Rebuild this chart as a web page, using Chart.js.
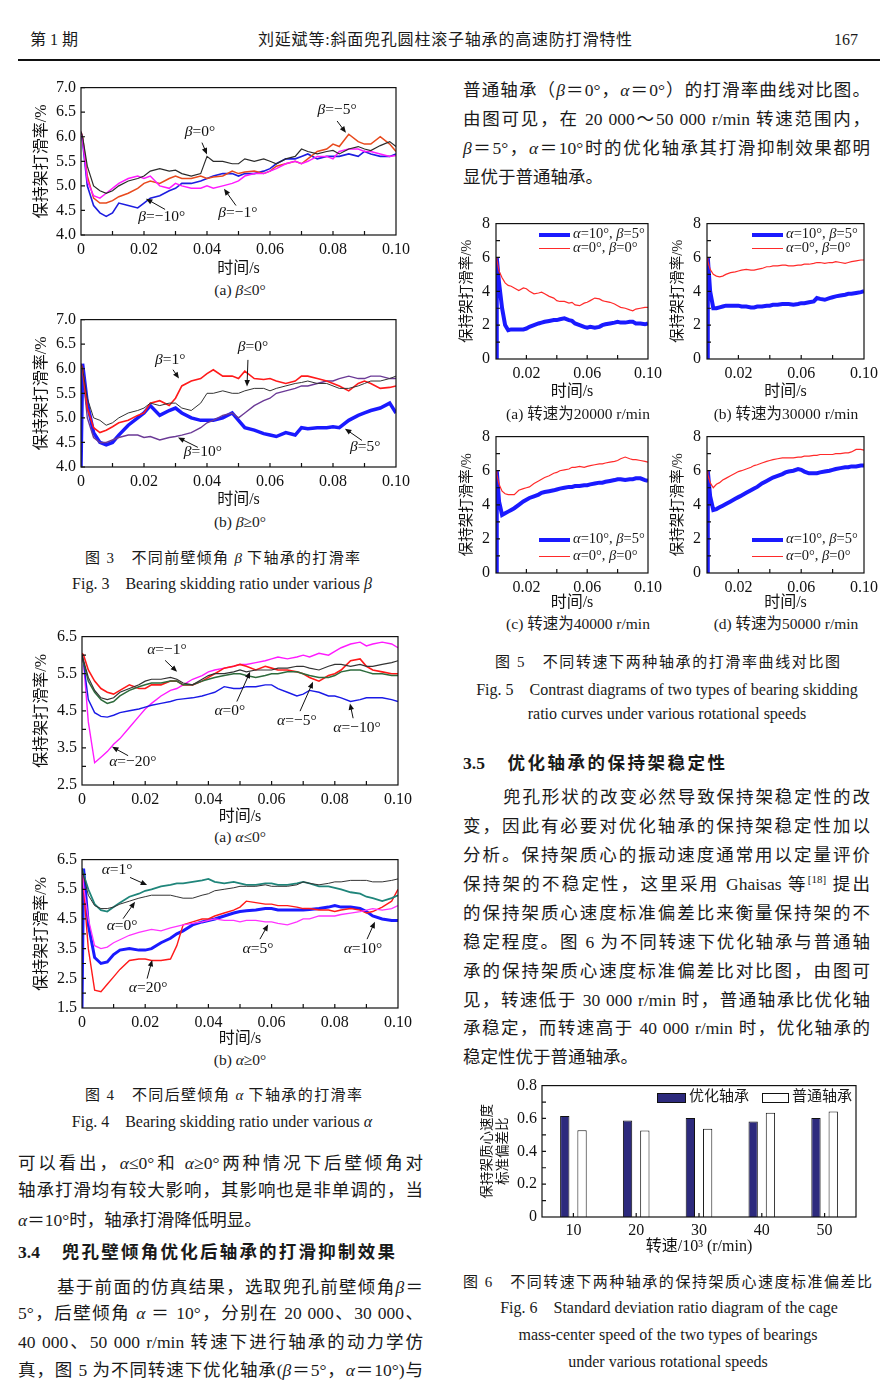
<!DOCTYPE html>
<html lang="zh-CN">
<head>
<meta charset="utf-8">
<title>斜面兜孔圆柱滚子轴承的高速防打滑特性</title>
<script src="https://cdn.jsdelivr.net/npm/chart.js@4.4.1/dist/chart.umd.min.js"></script>
<style>
  body { margin: 0; background: #fff; }
  #page { position: relative; width: 890px; height: 1398px; overflow: hidden; background: #fff; color: #1a1a1a;
          font-family: 'Liberation Serif', 'Noto Sans CJK SC', serif; }
  .ln { position: absolute; height: 30px; line-height: 30px; font-size: 17.5px; white-space: nowrap; }
  .jf { white-space: normal; text-align: justify; text-align-last: justify; }
  .hd { font-weight: bold; }
  .cp { position: absolute; height: 20px; line-height: 20px; font-size: 15px; text-align: justify; text-align-last: justify; }
  .ce { position: absolute; height: 20px; line-height: 20px; font-size: 16px; white-space: nowrap; transform: translateX(-50%); }
  .sub { position: absolute; font-size: 15.5px; line-height: 20px; white-space: nowrap; transform: translateX(-50%); }
  .box { position: absolute; }
  .box canvas { display: block; }
  .lg { position: absolute; font-size: 14.5px; line-height: 16px; white-space: nowrap; }
  .lg span { display: inline-block; vertical-align: middle; margin-right: 3px; }
  .rule { position: absolute; left: 18px; top: 59px; width: 862px; height: 2px; background: #111; }
  sup { font-size: 11px; line-height: 0; }
</style>
</head>
<body>
<div id="page">
  <!-- 页眉 -->
  <div class="ln" style="left:30px;top:25px;font-size:16px">第 1 期</div>
  <div class="ln jf" style="left:258px;top:25px;width:374px;font-size:16px">刘延斌等:斜面兜孔圆柱滚子轴承的高速防打滑特性</div>
  <div class="ln" style="left:834px;top:25px;font-size:16px">167</div>
  <div class="rule"></div>

  <!-- 图 3 -->
  <div class="box" id="box-f3a"><canvas id="f3a"></canvas></div>
  <div class="sub" style="left:240px;top:280px">(a) <i>β</i>≤0°</div>
  <div class="box" id="box-f3b"><canvas id="f3b"></canvas></div>
  <div class="sub" style="left:240px;top:512px">(b) <i>β</i>≥0°</div>
  <div class="cp" style="left:85px;top:548px;width:275px">图 3　不同前壁倾角 <i>β</i> 下轴承的打滑率</div>
  <div class="ce" style="left:222px;top:574px">Fig. 3&emsp;Bearing skidding ratio under various <i>β</i></div>

  <!-- 图 4 -->
  <div class="box" id="box-f4a"><canvas id="f4a"></canvas></div>
  <div class="sub" style="left:240px;top:827px">(a) <i>α</i>≤0°</div>
  <div class="box" id="box-f4b"><canvas id="f4b"></canvas></div>
  <div class="sub" style="left:240px;top:1050px">(b) <i>α</i>≥0°</div>
  <div class="cp" style="left:85px;top:1085px;width:277px">图 4　不同后壁倾角 <i>α</i> 下轴承的打滑率</div>
  <div class="ce" style="left:222px;top:1112px">Fig. 4&emsp;Bearing skidding ratio under various <i>α</i></div>

  <!-- 左栏正文 -->
  <div class="ln jf" style="left:18px;top:1148px;width:405px">可以看出，<i>α</i>≤0°和 <i>α</i>≥0°两种情况下后壁倾角对</div>
  <div class="ln jf" style="left:18px;top:1175px;width:405px">轴承打滑均有较大影响，其影响也是非单调的，当</div>
  <div class="ln" style="left:18px;top:1205px"><i>α</i>＝10°时，轴承打滑降低明显。</div>
  <div class="ln jf hd" style="left:18px;top:1237px;width:377px">3.4　兜孔壁倾角优化后轴承的打滑抑制效果</div>
  <div class="ln jf" style="left:57px;top:1272px;width:366px">基于前面的仿真结果，选取兜孔前壁倾角<i>β</i>＝</div>
  <div class="ln jf" style="left:18px;top:1298px;width:405px">5°，后壁倾角 <i>α</i> ＝ 10°，分别在 20 000、30 000、</div>
  <div class="ln jf" style="left:18px;top:1327px;width:405px">40 000、50 000 r/min 转速下进行轴承的动力学仿</div>
  <div class="ln jf" style="left:18px;top:1355px;width:405px">真，图 5 为不同转速下优化轴承(<i>β</i>＝5°，<i>α</i>＝10°)与</div>

  <!-- 右栏正文 -->
  <div class="ln jf" style="left:463px;top:75px;width:407px">普通轴承（<i>β</i>＝0°，<i>α</i>＝0°）的打滑率曲线对比图。</div>
  <div class="ln jf" style="left:463px;top:104px;width:407px">由图可见，在 20 000～50 000 r/min 转速范围内，</div>
  <div class="ln jf" style="left:463px;top:133px;width:407px"><i>β</i>＝5°，<i>α</i>＝10°时的优化轴承其打滑抑制效果都明</div>
  <div class="ln" style="left:463px;top:162px">显优于普通轴承。</div>

  <!-- 图 5 -->
  <div class="box" id="box-f5a"><canvas id="f5a"></canvas></div>
  <div class="box" id="box-f5b"><canvas id="f5b"></canvas></div>
  <div class="box" id="box-f5c"><canvas id="f5c"></canvas></div>
  <div class="box" id="box-f5d"><canvas id="f5d"></canvas></div>
  <div class="lg" style="left:539px;top:225px"><span style="width:31px;height:4px;background:#1a1aff"></span><i>α</i>=10°, <i>β</i>=5°</div>
  <div class="lg" style="left:539px;top:239px"><span style="width:31px;height:1.5px;background:#ff2a2a"></span><i>α</i>=0°, <i>β</i>=0°</div>
  <div class="lg" style="left:752px;top:225px"><span style="width:31px;height:4px;background:#1a1aff"></span><i>α</i>=10°, <i>β</i>=5°</div>
  <div class="lg" style="left:752px;top:239px"><span style="width:31px;height:1.5px;background:#ff2a2a"></span><i>α</i>=0°, <i>β</i>=0°</div>
  <div class="lg" style="left:539px;top:530px"><span style="width:31px;height:4px;background:#1a1aff"></span><i>α</i>=10°, <i>β</i>=5°</div>
  <div class="lg" style="left:539px;top:547px"><span style="width:31px;height:1.5px;background:#ff2a2a"></span><i>α</i>=0°, <i>β</i>=0°</div>
  <div class="lg" style="left:752px;top:530px"><span style="width:31px;height:4px;background:#1a1aff"></span><i>α</i>=10°, <i>β</i>=5°</div>
  <div class="lg" style="left:752px;top:547px"><span style="width:31px;height:1.5px;background:#ff2a2a"></span><i>α</i>=0°, <i>β</i>=0°</div>
  <div class="sub" style="left:578px;top:404px">(a) 转速为20000 r/min</div>
  <div class="sub" style="left:786px;top:404px">(b) 转速为30000 r/min</div>
  <div class="sub" style="left:578px;top:614px">(c) 转速为40000 r/min</div>
  <div class="sub" style="left:786px;top:614px">(d) 转速为50000 r/min</div>
  <div class="cp" style="left:495px;top:652px;width:345px">图 5　不同转速下两种轴承的打滑率曲线对比图</div>
  <div class="ce" style="left:667px;top:680px">Fig. 5&emsp;Contrast diagrams of two types of bearing skidding</div>
  <div class="ce" style="left:667px;top:704px">ratio curves under various rotational speeds</div>

  <div class="ln jf hd" style="left:463px;top:748px;width:262px">3.5　优化轴承的保持架稳定性</div>
  <div class="ln jf" style="left:503px;top:782px;width:367px">兜孔形状的改变必然导致保持架稳定性的改</div>
  <div class="ln jf" style="left:463px;top:811px;width:407px">变，因此有必要对优化轴承的保持架稳定性加以</div>
  <div class="ln jf" style="left:463px;top:840px;width:407px">分析。保持架质心的振动速度通常用以定量评价</div>
  <div class="ln jf" style="left:463px;top:869px;width:407px">保持架的不稳定性，这里采用 Ghaisas 等<sup>[18]</sup> 提出</div>
  <div class="ln jf" style="left:463px;top:898px;width:407px">的保持架质心速度标准偏差比来衡量保持架的不</div>
  <div class="ln jf" style="left:463px;top:927px;width:407px">稳定程度。图 6 为不同转速下优化轴承与普通轴</div>
  <div class="ln jf" style="left:463px;top:956px;width:407px">承的保持架质心速度标准偏差比对比图，由图可</div>
  <div class="ln jf" style="left:463px;top:985px;width:407px">见，转速低于 30 000 r/min 时，普通轴承比优化轴</div>
  <div class="ln jf" style="left:463px;top:1013px;width:407px">承稳定，而转速高于 40 000 r/min 时，优化轴承的</div>
  <div class="ln" style="left:463px;top:1042px">稳定性优于普通轴承。</div>

  <!-- 图 6 -->
  <div class="box" id="box-f6"><canvas id="f6"></canvas></div>
  <div class="lg" style="left:657px;top:1088px;font-size:15px"><span style="width:27px;height:8px;background:#2d2a7d;border:1px solid #111"></span>优化轴承</div>
  <div class="lg" style="left:762px;top:1088px;font-size:15px"><span style="width:25px;height:8px;background:#fff;border:1px solid #111"></span>普通轴承</div>
  <div class="cp" style="left:463px;top:1272px;width:409px">图 6　不同转速下两种轴承的保持架质心速度标准偏差比</div>
  <div class="ce" style="left:669px;top:1298px">Fig. 6&emsp;Standard deviation ratio diagram of the cage</div>
  <div class="ce" style="left:668px;top:1325px">mass-center speed of the two types of bearings</div>
  <div class="ce" style="left:668px;top:1352px">under various rotational speeds</div>
</div>

<script>
// ---------------- 数据 ----------------
const TIME_S = [0, 0.0005, 0.002, 0.004, 0.006, 0.008, 0.010, 0.012, 0.015, 0.018,
    0.020, 0.022, 0.025, 0.028, 0.030, 0.032, 0.035, 0.038, 0.040, 0.042,
    0.045, 0.048, 0.050, 0.052, 0.055, 0.058, 0.060, 0.062, 0.065, 0.068,
    0.070, 0.072, 0.075, 0.078, 0.080, 0.082, 0.085, 0.088, 0.090, 0.092,
    0.095, 0.098, 0.100];

// 图3(a) β≤0°
const BETA_0_A = [6.1, 6.0, 5.4, 5.0, 4.9, 4.85, 4.9, 5.0, 5.1, 5.15,
    5.2, 5.3, 5.35, 5.3, 5.32, 5.25, 5.2, 5.25, 5.6, 5.5,
    5.5, 5.45, 5.45, 5.55, 5.5, 5.55, 5.5, 5.45, 5.55, 5.6,
    5.75, 5.7, 5.65, 5.7, 5.72, 5.65, 5.75, 5.8, 5.75, 5.72,
    5.82, 5.9, 5.8];
const BETA_M5 = [6.1, 6.0, 5.2, 4.75, 4.65, 4.65, 4.7, 4.78, 4.85, 4.95,
    5.05, 5.1, 5.05, 5.15, 5.2, 5.15, 5.15, 5.2, 5.15, 5.18,
    5.2, 5.3, 5.25, 5.28, 5.3, 5.25, 5.3, 5.4, 5.45, 5.5,
    5.45, 5.55, 5.7, 5.75, 5.85, 5.8, 6.05, 5.9, 5.85, 5.85,
    6.0, 5.85, 5.7];
const BETA_M10 = [6.1, 5.9, 5.0, 4.6, 4.45, 4.38, 4.45, 4.65, 4.6, 4.55,
    4.65, 4.75, 4.8, 4.9, 4.95, 5.05, 5.05, 5.1, 5.15, 5.2,
    5.25, 5.25, 5.2, 5.25, 5.25, 5.3, 5.35, 5.45, 5.55, 5.55,
    5.6, 5.65, 5.55, 5.6, 5.6, 5.6, 5.65, 5.6, 5.7, 5.65,
    5.6, 5.6, 5.65];
const BETA_M1 = [6.1, 5.95, 5.1, 4.8, 4.75, 4.85, 4.95, 5.05, 5.15, 5.2,
    5.15, 5.2, 5.0, 4.95, 5.05, 5.0, 4.95, 4.95, 5.0, 4.95,
    5.0, 5.05, 5.1, 5.2, 5.25, 5.25, 5.3, 5.35, 5.45, 5.5,
    5.45, 5.5, 5.6, 5.6, 5.55, 5.7, 5.75, 5.75, 5.7, 5.7,
    5.65, 5.6, 5.62];

// 图3(b) β≥0°
const BETA_P1 = [6.1, 6.0, 5.2, 4.8, 4.7, 4.75, 4.82, 4.9, 4.95, 5.05,
    5.1, 5.3, 5.35, 5.25, 5.4, 5.65, 5.75, 5.8, 5.9, 5.98,
    5.85, 5.85, 5.8, 5.95, 5.8, 5.78, 5.8, 5.75, 5.7, 5.75,
    5.85, 5.85, 5.8, 5.75, 5.7, 5.65, 5.55, 5.7, 5.75, 5.7,
    5.6, 5.62, 5.65];
const BETA_0_B = [6.1, 6.0, 5.4, 5.0, 4.95, 4.85, 4.9, 5.0, 5.1, 5.15,
    5.2, 5.3, 5.25, 5.3, 5.3, 5.2, 5.15, 5.3, 5.5, 5.5,
    5.55, 5.5, 5.5, 5.55, 5.6, 5.6, 5.55, 5.6, 5.65, 5.7,
    5.72, 5.75, 5.7, 5.7, 5.65, 5.6, 5.6, 5.65, 5.7, 5.75,
    5.75, 5.8, 5.85];
const BETA_P5 = [4.0, 6.1, 5.3, 4.7, 4.5, 4.45, 4.5, 4.65, 4.85, 5.0,
    5.1, 5.25, 5.05, 5.15, 5.2, 5.1, 5.0, 4.95, 4.95, 4.95,
    5.0, 5.1, 4.95, 4.8, 4.75, 4.68, 4.65, 4.62, 4.7, 4.65,
    4.8, 4.78, 4.8, 4.8, 4.82, 4.8, 4.95, 5.05, 5.1, 5.15,
    5.2, 5.3, 5.1];
const BETA_P10 = [6.1, 5.95, 5.0, 4.6, 4.5, 4.5, 4.55, 4.6, 4.65, 4.65,
    4.6, 4.62, 4.55, 4.6, 4.62, 4.65, 4.7, 4.8, 4.9, 4.95,
    5.05, 5.1, 5.0, 5.1, 5.25, 5.35, 5.4, 5.5, 5.55, 5.6,
    5.65, 5.65, 5.7, 5.75, 5.75, 5.8, 5.85, 5.8, 5.8, 5.85,
    5.85, 5.8, 5.8];

// 图4(a) α≤0°
const ALPHA_0_A = [6.05, 6.0, 5.6, 5.3, 5.1, 5.0, 4.95, 5.05, 5.2, 5.1,
    5.1, 5.2, 5.2, 5.3, 5.3, 5.2, 5.2, 5.3, 5.4, 5.5,
    5.65, 5.7, 5.75, 5.7, 5.6, 5.7, 5.65, 5.6, 5.6, 5.55,
    5.5, 5.4, 5.3, 5.45, 5.5, 5.6, 5.85, 5.9, 5.7, 5.6,
    5.55, 5.5, 5.5];
const ALPHA_M20 = [6.0, 5.8, 4.2, 3.1, 3.25, 3.4, 3.6, 3.75, 4.05, 4.35,
    4.55, 4.7, 4.9, 5.05, 5.1, 5.2, 5.35, 5.45, 5.55, 5.6,
    5.65, 5.7, 5.75, 5.75, 5.8, 5.85, 5.9, 5.95, 5.9, 5.95,
    6.0, 5.95, 6.05, 6.0, 6.1, 6.2, 6.3, 6.35, 6.25, 6.3,
    6.35, 6.3, 6.2];
const ALPHA_M10 = [6.0, 5.8, 4.8, 4.45, 4.35, 4.33, 4.38, 4.45, 4.5, 4.55,
    4.6, 4.65, 4.7, 4.75, 4.8, 4.82, 4.85, 4.9, 4.95, 5.0,
    5.15, 5.1, 5.1, 5.15, 5.15, 5.2, 5.2, 5.1, 5.0, 4.9,
    4.95, 5.05, 5.0, 4.9, 4.9, 4.85, 4.75, 4.8, 4.85, 4.85,
    4.85, 4.8, 4.75];
const ALPHA_M5 = [6.0, 5.8, 5.3, 5.0, 4.8, 4.7, 4.75, 4.9, 5.05, 5.15,
    5.2, 5.25, 5.25, 5.3, 5.3, 5.2, 5.2, 5.3, 5.35, 5.4,
    5.45, 5.5, 5.5, 5.45, 5.4, 5.45, 5.5, 5.5, 5.55, 5.55,
    5.5, 5.45, 5.4, 5.4, 5.45, 5.55, 5.6, 5.6, 5.55, 5.5,
    5.5, 5.45, 5.45];
const ALPHA_M1 = [6.0, 5.85, 5.4, 5.05, 4.85, 4.8, 4.85, 5.0, 5.1, 5.2,
    5.3, 5.35, 5.35, 5.4, 5.35, 5.25, 5.2, 5.35, 5.45, 5.5,
    5.5, 5.55, 5.6, 5.55, 5.6, 5.6, 5.6, 5.65, 5.65, 5.7,
    5.7, 5.65, 5.6, 5.7, 5.75, 5.75, 5.7, 5.75, 5.7, 5.7,
    5.75, 5.8, 5.85];

// 图4(b) α≥0°
const ALPHA_P1 = [6.2, 6.0, 5.5, 5.0, 4.8, 4.75, 4.9, 5.05, 5.25, 5.35,
    5.45, 5.5, 5.6, 5.65, 5.7, 5.7, 5.75, 5.8, 5.85, 5.75,
    5.7, 5.75, 5.7, 5.65, 5.65, 5.7, 5.7, 5.65, 5.65, 5.7,
    5.75, 5.7, 5.6, 5.6, 5.55, 5.5, 5.4, 5.35, 5.25, 5.2,
    5.1, 5.2, 5.3];
const ALPHA_0_B = [6.2, 5.95, 5.3, 4.95, 4.85, 4.85, 4.9, 5.0, 5.1, 5.2,
    5.25, 5.3, 5.3, 5.3, 5.25, 5.2, 5.2, 5.3, 5.35, 5.45,
    5.5, 5.55, 5.6, 5.6, 5.6, 5.65, 5.6, 5.6, 5.6, 5.65,
    5.75, 5.7, 5.65, 5.7, 5.75, 5.75, 5.8, 5.8, 5.8, 5.75,
    5.75, 5.8, 5.85];
const ALPHA_P5 = [6.2, 5.6, 4.5, 3.6, 3.5, 3.55, 3.7, 3.8, 3.95, 4.05,
    4.1, 4.15, 4.1, 4.2, 4.25, 4.3, 4.35, 4.4, 4.45, 4.5,
    4.45, 4.45, 4.4, 4.45, 4.45, 4.4, 4.4, 4.35, 4.3, 4.4,
    4.5, 4.5, 4.6, 4.6, 4.6, 4.65, 4.7, 4.75, 4.8, 4.85,
    4.8, 4.85, 4.95];
const ALPHA_P10 = [1.5, 6.2, 4.3, 3.2, 3.0, 3.05, 3.3, 3.45, 3.5, 3.45,
    3.45, 3.5, 3.7, 3.85, 4.0, 4.1, 4.3, 4.4, 4.45, 4.5,
    4.6, 4.7, 4.75, 4.78, 4.8, 4.85, 4.85, 4.8, 4.8, 4.8,
    4.8, 4.82, 4.85, 4.9, 4.95, 4.9, 4.9, 4.85, 4.75, 4.6,
    4.5, 4.45, 4.45];
const ALPHA_P20 = [6.2, 5.5, 3.5, 2.1, 2.05, 2.3, 2.55, 2.8, 3.1, 3.15,
    3.15, 3.1, 3.1, 3.15, 3.6, 4.3, 4.4, 4.5, 4.5, 4.6,
    4.7, 4.8, 4.9, 5.1, 5.05, 5.0, 5.0, 4.95, 4.95, 4.9,
    4.85, 4.85, 4.8, 4.8, 4.75, 4.8, 4.85, 4.8, 4.7, 4.75,
    4.9, 5.1, 5.5];

// 图5 优化轴承(α=10°, β=5°) 与 普通轴承(α=0°, β=0°)
const OPT_20K = [0, 6.0, 4.5, 3.0, 2.0, 1.7, 1.75, 1.75, 1.75, 1.75,
    1.8, 1.9, 2.0, 2.1, 2.15, 2.2, 2.25, 2.3, 2.3, 2.35,
    2.4, 2.3, 2.25, 2.1, 2.0, 1.9, 1.85, 1.9, 1.85, 1.9,
    2.0, 2.05, 2.1, 2.15, 2.2, 2.15, 2.15, 2.2, 2.2, 2.1,
    2.1, 2.05, 2.1];
const STD_20K = [6.0, 5.9, 5.2, 4.8, 4.5, 4.35, 4.3, 4.2, 4.05, 4.2,
    4.15, 4.0, 3.85, 3.9, 3.95, 3.85, 3.7, 3.6, 3.45, 3.4,
    3.4, 3.3, 3.35, 3.2, 3.15, 3.3, 3.35, 3.45, 3.6, 3.55,
    3.45, 3.4, 3.35, 3.25, 3.15, 3.05, 3.0, 2.9, 2.85, 2.95,
    3.0, 3.05, 3.05];
const OPT_30K = [0, 6.0, 4.0, 3.0, 3.0, 3.05, 3.1, 3.15, 3.15, 3.15,
    3.15, 3.1, 3.1, 3.05, 3.05, 3.1, 3.1, 3.15, 3.15, 3.2,
    3.2, 3.25, 3.25, 3.25, 3.2, 3.25, 3.3, 3.3, 3.35, 3.4,
    3.6, 3.55, 3.5, 3.6, 3.65, 3.7, 3.75, 3.8, 3.85, 3.85,
    3.9, 3.95, 4.0];
const STD_30K = [6.0, 5.8, 5.3, 5.0, 4.9, 4.85, 4.9, 5.0, 5.1, 5.15,
    5.2, 5.25, 5.3, 5.25, 5.25, 5.3, 5.35, 5.45, 5.45, 5.5,
    5.5, 5.55, 5.55, 5.5, 5.5, 5.55, 5.55, 5.6, 5.6, 5.65,
    5.7, 5.7, 5.65, 5.7, 5.7, 5.75, 5.7, 5.65, 5.7, 5.75,
    5.8, 5.85, 5.85];
const OPT_40K = [0, 6.0, 4.2, 3.4, 3.5, 3.6, 3.7, 3.8, 4.0, 4.2,
    4.3, 4.4, 4.5, 4.6, 4.7, 4.75, 4.8, 4.85, 4.9, 4.95,
    5.0, 5.05, 5.05, 5.1, 5.1, 5.15, 5.15, 5.2, 5.25, 5.3,
    5.3, 5.35, 5.4, 5.45, 5.5, 5.5, 5.45, 5.5, 5.5, 5.55,
    5.55, 5.45, 5.4];
const STD_40K = [6.0, 5.8, 5.2, 4.8, 4.65, 4.6, 4.6, 4.6, 4.85, 4.95,
    5.0, 5.05, 5.25, 5.4, 5.5, 5.6, 5.7, 5.85, 5.9, 6.0,
    6.05, 6.1, 6.2, 6.2, 6.25, 6.2, 6.25, 6.3, 6.35, 6.4,
    6.4, 6.45, 6.5, 6.55, 6.6, 6.7, 6.8, 6.7, 6.65, 6.65,
    6.6, 6.55, 6.5];
const OPT_50K = [0, 6.0, 4.5, 3.7, 3.75, 3.85, 3.95, 4.05, 4.2, 4.35,
    4.45, 4.55, 4.7, 4.85, 4.95, 5.05, 5.25, 5.4, 5.5, 5.6,
    5.7, 5.8, 5.9, 5.95, 6.0, 6.1, 6.05, 5.95, 5.85, 5.85,
    5.85, 5.9, 5.95, 6.0, 6.05, 6.1, 6.15, 6.2, 6.2, 6.25,
    6.25, 6.3, 6.3];
const STD_50K = [6.0, 5.8, 5.3, 5.0, 5.2, 5.3, 5.45, 5.55, 5.7, 5.85,
    5.95, 6.0, 6.1, 6.2, 6.3, 6.35, 6.45, 6.55, 6.6, 6.65,
    6.7, 6.75, 6.75, 6.75, 6.75, 6.8, 6.8, 6.85, 6.85, 6.9,
    6.9, 6.95, 6.95, 6.95, 6.95, 7.0, 7.0, 7.05, 7.05, 7.1,
    7.25, 7.25, 7.2];

// 图6 保持架质心速度标准偏差比
const SPEED_K = ['10', '20', '30', '40', '50'];
const OPT_STD = [0.615, 0.588, 0.602, 0.582, 0.602];
const NORM_STD = [0.528, 0.527, 0.537, 0.635, 0.642];

// 刻度
const T_LABELS = [0, 0.02, 0.04, 0.06, 0.08, 0.10];
const T_MARKS = [0.01, 0.02, 0.03, 0.04, 0.05, 0.06, 0.07, 0.08, 0.09];
const T_LABELS_5 = [0.02, 0.06, 0.10];
const T_MARKS_5 = [0.02, 0.04, 0.06, 0.08];
const Y_LABELS_3 = [4.0, 4.5, 5.0, 5.5, 6.0, 6.5, 7.0];
const Y_LABELS_4A = [2.5, 3.5, 4.5, 5.5, 6.5];
const Y_MARKS_4A = [3.0, 3.5, 4.0, 4.5, 5.0, 5.5, 6.0];
const Y_LABELS_4B = [1.5, 2.5, 3.5, 4.5, 5.5, 6.5];
const Y_MARKS_4B = [2.0, 2.5, 3.0, 3.5, 4.0, 4.5, 5.0, 5.5, 6.0];
const Y_LABELS_5 = [0, 2, 4, 6, 8];
const Y_MARKS_5 = [1, 2, 3, 4, 5, 6, 7];
const Y_LABELS_6 = [0, 0.2, 0.4, 0.6, 0.8];
const Y_MARKS_6 = [0.1, 0.2, 0.3, 0.4, 0.5, 0.6, 0.7];

// ---------------- 绘图 ----------------
const SERIF = "'Liberation Serif', 'Noto Sans CJK SC', serif";
Chart.defaults.font.family = SERIF;
Chart.defaults.color = '#111';

function series(vals) {
    return TIME_S.map((t, i) => ({ x: t, y: vals[i] }));
}

function placeBox(id, p, m) {
    const el = document.getElementById('box-' + id);
    el.style.left = (p.l - m.l) + 'px';
    el.style.top = (p.t - m.t) + 'px';
    el.style.width = (p.r - p.l + m.l + m.r) + 'px';
    el.style.height = (p.b - p.t + m.t + m.b) + 'px';
    return document.getElementById(id);
}

// 边框 + 朝内的刻度线
function frameTicks(xMarks, yMarks) {
    return {
        id: 'frameTicks',
        afterDatasetsDraw(chart) {
            const { ctx, chartArea: a, scales } = chart;
            ctx.save();
            ctx.strokeStyle = '#111';
            ctx.lineWidth = 1.2;
            ctx.strokeRect(a.left, a.top, a.right - a.left, a.bottom - a.top);
            ctx.beginPath();
            xMarks.forEach(v => {
                const px = scales.x.getPixelForValue(v);
                ctx.moveTo(px, a.bottom);
                ctx.lineTo(px, a.bottom - 4);
            });
            yMarks.forEach(v => {
                const py = scales.y.getPixelForValue(v);
                ctx.moveTo(a.left, py);
                ctx.lineTo(a.left + 4, py);
            });
            ctx.stroke();
            ctx.restore();
        }
    };
}

function greekLabel(ctx, s, cx, cy) {
    const g = s[0], rest = s.slice(1);
    ctx.font = `italic 15.5px ${SERIF}`;
    const wg = ctx.measureText(g).width;
    ctx.font = `15.5px ${SERIF}`;
    const wr = ctx.measureText(rest).width;
    const x0 = cx - (wg + wr) / 2;
    ctx.textBaseline = 'middle';
    ctx.textAlign = 'left';
    ctx.fillStyle = '#111';
    ctx.font = `italic 15.5px ${SERIF}`;
    ctx.fillText(g, x0, cy);
    ctx.font = `15.5px ${SERIF}`;
    ctx.fillText(rest, x0 + wg, cy);
}

function arrow(ctx, x1, y1, x2, y2) {
    const ang = Math.atan2(y2 - y1, x2 - x1);
    ctx.strokeStyle = '#111';
    ctx.fillStyle = '#111';
    ctx.lineWidth = 1;
    ctx.beginPath();
    ctx.moveTo(x1, y1);
    ctx.lineTo(x2 - 4 * Math.cos(ang), y2 - 4 * Math.sin(ang));
    ctx.stroke();
    ctx.beginPath();
    ctx.moveTo(x2, y2);
    ctx.lineTo(x2 - 7 * Math.cos(ang - 0.4), y2 - 7 * Math.sin(ang - 0.4));
    ctx.lineTo(x2 - 7 * Math.cos(ang + 0.4), y2 - 7 * Math.sin(ang + 0.4));
    ctx.closePath();
    ctx.fill();
}

// 曲线标注(数据坐标)
function notes(items) {
    return {
        id: 'notes',
        afterDatasetsDraw(chart) {
            const { ctx, scales: { x, y } } = chart;
            ctx.save();
            items.forEach(n => {
                greekLabel(ctx, n.text, x.getPixelForValue(n.at[0]), y.getPixelForValue(n.at[1]));
                arrow(ctx, x.getPixelForValue(n.from[0]), y.getPixelForValue(n.from[1]),
                    x.getPixelForValue(n.to[0]), y.getPixelForValue(n.to[1]));
            });
            ctx.restore();
        }
    };
}

function lineChart(id, p, m, cfg) {
    const canvas = placeBox(id, p, m);
    return new Chart(canvas, {
        type: 'line',
        data: {
            datasets: cfg.lines.map(l => ({
                data: series(l.vals), borderColor: l.color, borderWidth: l.width,
                pointRadius: 0, tension: 0, fill: false
            }))
        },
        options: {
            responsive: true, maintainAspectRatio: false, animation: false,
            layout: { padding: { top: m.t, right: m.r, left: 0, bottom: 0 } },
            plugins: { legend: { display: false }, tooltip: { enabled: false } },
            scales: {
                x: {
                    type: 'linear', min: 0, max: 0.1,
                    afterBuildTicks: s => { s.ticks = cfg.xLabels.map(v => ({ value: v })); },
                    afterFit: s => { s.height = m.b; },
                    grid: { display: false, drawTicks: false }, border: { display: false },
                    ticks: { padding: 5, font: { size: 16 }, maxRotation: 0, autoSkip: false,
                        callback: v => v === 0 ? '0' : v.toFixed(2) },
                    title: { display: true, text: '时间/s', font: { size: 16 }, padding: 0 }
                },
                y: {
                    min: cfg.yMin, max: cfg.yMax,
                    afterBuildTicks: s => { s.ticks = cfg.yLabels.map(v => ({ value: v })); },
                    afterFit: s => { s.width = m.l; },
                    grid: { display: false, drawTicks: false }, border: { display: false },
                    ticks: { padding: cfg.yPad || 5, font: { size: 16 }, autoSkip: false, callback: cfg.yFmt },
                    title: { display: true, text: '保持架打滑率/%', font: { size: cfg.yTitleSize }, padding: 0 }
                }
            }
        },
        plugins: [frameTicks(cfg.xMarks, cfg.yMarks), notes(cfg.notes || [])]
    });
}

const oneDec = v => v.toFixed(1);
const intFmt = v => String(v);

lineChart('f3a', { l: 81, t: 85, r: 396, b: 235 }, { l: 49, t: 12, r: 22, b: 43 }, {
    yMin: 4, yMax: 7, yLabels: Y_LABELS_3, yMarks: Y_LABELS_3, yFmt: oneDec, yTitleSize: 16,
    xLabels: T_LABELS, xMarks: T_MARKS,
    lines: [
        { vals: BETA_0_A, color: '#2b2b2b', width: 1.2 },
        { vals: BETA_M1, color: '#ff1aff', width: 1.5 },
        { vals: BETA_M5, color: '#e8491d', width: 1.5 },
        { vals: BETA_M10, color: '#1d1de0', width: 1.6 }
    ],
    notes: [
        { text: 'β=0°', at: [0.0378, 6.1], from: [0.0384, 5.88], to: [0.0400, 5.64] },
        { text: 'β=−5°', at: [0.0813, 6.54], from: [0.0813, 6.32], to: [0.0841, 6.08] },
        { text: 'β=−10°', at: [0.0256, 4.37], from: [0.0267, 4.52], to: [0.0206, 4.74] },
        { text: 'β=−1°', at: [0.0498, 4.44], from: [0.0492, 4.6], to: [0.0454, 4.94] }
    ]
});

lineChart('f3b', { l: 81, t: 317, r: 396, b: 467 }, { l: 49, t: 12, r: 22, b: 42 }, {
    yMin: 4, yMax: 7, yLabels: Y_LABELS_3, yMarks: Y_LABELS_3, yFmt: oneDec, yTitleSize: 16,
    xLabels: T_LABELS, xMarks: T_MARKS,
    lines: [
        { vals: BETA_0_B, color: '#333333', width: 1 },
        { vals: BETA_P1, color: '#ff1a1a', width: 1.6 },
        { vals: BETA_P10, color: '#6b3a96', width: 1.4 },
        { vals: BETA_P5, color: '#1a1aff', width: 3.5 }
    ],
    notes: [
        { text: 'β=1°', at: [0.0283, 6.18], from: [0.0292, 5.98], to: [0.0311, 5.8] },
        { text: 'β=0°', at: [0.0546, 6.44], from: [0.053, 6.18], to: [0.0527, 5.64] },
        { text: 'β=10°', at: [0.0387, 4.3], from: [0.0371, 4.4], to: [0.0308, 4.6] },
        { text: 'β=5°', at: [0.0902, 4.4], from: [0.0892, 4.54], to: [0.0838, 4.78] }
    ]
});

lineChart('f4a', { l: 82, t: 634, r: 398, b: 785 }, { l: 50, t: 12, r: 22, b: 41 }, {
    yMin: 2.5, yMax: 6.5, yLabels: Y_LABELS_4A, yMarks: Y_MARKS_4A, yFmt: oneDec, yTitleSize: 16,
    xLabels: T_LABELS, xMarks: T_MARKS,
    lines: [
        { vals: ALPHA_M1, color: '#333333', width: 1.2 },
        { vals: ALPHA_M5, color: '#2d6b3c', width: 1.5 },
        { vals: ALPHA_0_A, color: '#ff1a1a', width: 1.6 },
        { vals: ALPHA_M10, color: '#1a1ae6', width: 1.4 },
        { vals: ALPHA_M20, color: '#ff1aff', width: 1.4 }
    ],
    notes: [
        { text: 'α=−1°', at: [0.0269, 6.13], from: [0.0263, 5.86], to: [0.0301, 5.55] },
        { text: 'α=0°', at: [0.0468, 4.49], from: [0.049, 4.75], to: [0.0532, 5.55] },
        { text: 'α=−5°', at: [0.068, 4.22], from: [0.069, 4.49], to: [0.0731, 5.28] },
        { text: 'α=−10°', at: [0.087, 4.04], from: [0.0858, 4.3], to: [0.0848, 4.7] },
        { text: 'α=−20°', at: [0.0161, 3.11], from: [0.0146, 3.29], to: [0.0095, 3.53] }
    ]
});

lineChart('f4b', { l: 82, t: 857, r: 398, b: 1008 }, { l: 50, t: 12, r: 22, b: 40 }, {
    yMin: 1.5, yMax: 6.5, yLabels: Y_LABELS_4B, yMarks: Y_MARKS_4B, yFmt: oneDec, yTitleSize: 16,
    xLabels: T_LABELS, xMarks: T_MARKS,
    lines: [
        { vals: ALPHA_0_B, color: '#333333', width: 1 },
        { vals: ALPHA_P1, color: '#1f857a', width: 1.8 },
        { vals: ALPHA_P5, color: '#ff33ff', width: 1.3 },
        { vals: ALPHA_P20, color: '#ff1a1a', width: 1.4 },
        { vals: ALPHA_P10, color: '#1a1aff', width: 3 }
    ],
    notes: [
        { text: 'α=1°', at: [0.0111, 6.14], from: [0.0152, 5.9], to: [0.0206, 5.64] },
        { text: 'α=0°', at: [0.0127, 4.25], from: [0.013, 4.51], to: [0.0168, 5.08] },
        { text: 'α=5°', at: [0.0557, 3.49], from: [0.0563, 3.82], to: [0.0589, 4.31] },
        { text: 'α=10°', at: [0.0889, 3.49], from: [0.0902, 3.82], to: [0.0927, 4.41] },
        { text: 'α=20°', at: [0.0209, 2.16], from: [0.0206, 2.49], to: [0.0222, 3.12] }
    ]
});

function speedChart(id, p, m, optVals, stdVals) {
    lineChart(id, p, m, {
        yMin: 0, yMax: 8, yLabels: Y_LABELS_5, yMarks: Y_MARKS_5, yFmt: intFmt, yTitleSize: 14.5, yPad: 6,
        xLabels: T_LABELS_5, xMarks: T_MARKS_5,
        lines: [
            { vals: stdVals, color: '#ff2a2a', width: 1.2 },
            { vals: optVals, color: '#1a1aff', width: 4 }
        ]
    });
}
speedChart('f5a', { l: 496, t: 220, r: 653, b: 359 }, { l: 38, t: 12, r: 14, b: 42 }, OPT_20K, STD_20K);
speedChart('f5b', { l: 707, t: 220, r: 864, b: 359 }, { l: 38, t: 12, r: 20, b: 42 }, OPT_30K, STD_30K);
speedChart('f5c', { l: 496, t: 433, r: 653, b: 573 }, { l: 38, t: 12, r: 14, b: 39 }, OPT_40K, STD_40K);
speedChart('f5d', { l: 707, t: 433, r: 864, b: 573 }, { l: 38, t: 12, r: 20, b: 39 }, OPT_50K, STD_50K);

// 图6 柱状图
(function () {
    const m = { l: 62, t: 12, r: 20, b: 39 };
    const canvas = placeBox('f6', { l: 542, t: 1083, r: 856, b: 1217 }, m);
    new Chart(canvas, {
        type: 'bar',
        data: {
            labels: SPEED_K,
            datasets: [
                { label: '优化轴承', data: OPT_STD, backgroundColor: '#2d2a7d', borderColor: '#111',
                  borderWidth: 1, barPercentage: 0.54, categoryPercentage: 0.55 },
                { label: '普通轴承', data: NORM_STD, backgroundColor: '#ffffff', borderColor: '#111',
                  borderWidth: 1, barPercentage: 0.54, categoryPercentage: 0.55 }
            ]
        },
        options: {
            responsive: true, maintainAspectRatio: false, animation: false,
            layout: { padding: { top: m.t, right: m.r, left: 0, bottom: 0 } },
            plugins: { legend: { display: false }, tooltip: { enabled: false } },
            scales: {
                x: {
                    afterFit: s => { s.height = m.b; },
                    grid: { display: false, drawTicks: false }, border: { display: false },
                    ticks: { padding: 4, font: { size: 16 } },
                    title: { display: true, text: '转速/10³ (r/min)', font: { size: 16 }, padding: 0 }
                },
                y: {
                    min: 0, max: 0.8,
                    afterBuildTicks: s => { s.ticks = Y_LABELS_6.map(v => ({ value: v })); },
                    afterFit: s => { s.width = m.l; },
                    grid: { display: false, drawTicks: false }, border: { display: false },
                    ticks: { padding: 5, font: { size: 16 }, callback: v => v === 0 ? '0' : v.toFixed(1) },
                    title: { display: true, text: ['保持架质心速度', '标准偏差比'],
                             font: { size: 13.5, lineHeight: 1.15 }, padding: 0 }
                }
            }
        },
        plugins: [frameTicks([0, 1, 2, 3, 4], Y_MARKS_6)]
    });
})();
</script>
</body>
</html>
